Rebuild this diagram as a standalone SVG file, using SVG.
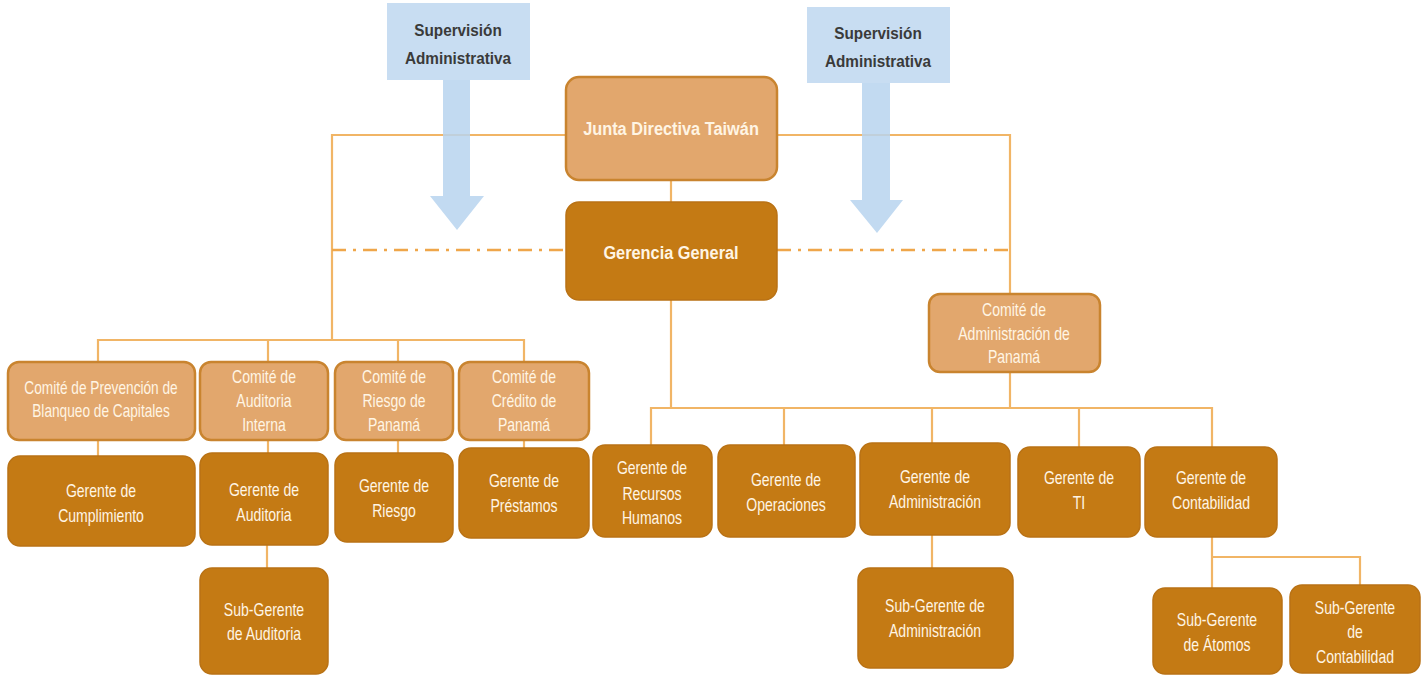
<svg xmlns="http://www.w3.org/2000/svg" width="1428" height="676" viewBox="0 0 1428 676">
<style>
.bg{fill:#ffffff}
.light rect{fill:#E2A76D;stroke:#C9842F;stroke-width:2.5}
.dark rect{fill:#C47A14;stroke:#B97215;stroke-width:1.5}
.node text{font-family:"Liberation Sans",sans-serif;font-size:18px;fill:#FFF5E4;text-anchor:middle}
.big text{font-size:19px;font-weight:bold}
.conn path{fill:none;stroke:#F1B566;stroke-width:2.2}
.conn path.dd{stroke:#EFA64A;stroke-width:2.6;stroke-dasharray:14 7 3 7}
.sup rect{fill:#C8DDF2}
.sup text{font-family:"Liberation Sans",sans-serif;font-size:17px;font-weight:bold;fill:#3A3A3A;text-anchor:middle}
.arrow{fill:#B7D3EE;fill-opacity:0.85}
</style>
<rect class="bg" x="0" y="0" width="1428" height="676"/>

<g id="connectors" class="conn">
<path d="M566,135 H332 V340"/>
<path d="M98,362 V340 H524 V362"/>
<path d="M268,340 V362"/>
<path d="M398,340 V362"/>
<path d="M777,135 H1010 V294"/>
<path d="M671,180 V202"/>
<path d="M671,300 V408"/>
<path d="M651,445 V408 H1212 V447"/>
<path d="M784,408 V445"/>
<path d="M932,408 V443"/>
<path d="M1079,408 V447"/>
<path d="M1010,372 V408"/>
<path d="M98,440 V456"/>
<path d="M268,440 V453"/>
<path d="M398,440 V453"/>
<path d="M524,440 V448"/>
<path d="M267,545 V568"/>
<path d="M932,535 V568"/>
<path d="M1212,537 V588"/>
<path d="M1212,557 H1360 V585"/>
<path class="dd" d="M332,250 H566"/>
<path class="dd" d="M777,250 H1010"/>
</g>

<g id="sup1" class="sup">
<rect x="387" y="3" width="143" height="77"/>
<g transform="translate(458 0) scale(0.9 1)"><text x="0" y="36">Supervisión</text><text x="0" y="64">Administrativa</text></g>
<polygon class="arrow" points="443,80 470,80 470,196 484,196 457,230 430,196 443,196"/>
</g>
<g id="sup2" class="sup">
<rect x="807" y="7" width="143" height="76"/>
<g transform="translate(878 0) scale(0.9 1)"><text x="0" y="39">Supervisión</text><text x="0" y="67">Administrativa</text></g>
<polygon class="arrow" points="862,83 890,83 890,200 903,200 877,233 850,200 862,200"/>
</g>

<g id="junta" class="node light big">
<rect x="566" y="77" width="211" height="103" rx="13"/>
<g transform="translate(671 0) scale(0.86 1)"><text x="0" y="135">Junta Directiva Taiwán</text></g>
</g>
<g id="gerencia" class="node dark big">
<rect x="566" y="202" width="211" height="98" rx="13"/>
<g transform="translate(671 0) scale(0.86 1)"><text x="0" y="259">Gerencia General</text></g>
</g>
<g id="comite-admin" class="node light">
<rect x="929" y="294" width="171" height="78" rx="11"/>
<g transform="translate(1014 0) scale(0.78 1)"><text x="0" y="316">Comité de</text><text x="0" y="340">Administración de</text><text x="0" y="363">Panamá</text></g>
</g>

<g id="comite-prevencion" class="node light">
<rect x="8" y="362" width="187" height="78" rx="11"/>
<g transform="translate(101 0) scale(0.76 1)"><text x="0" y="394">Comité de Prevención de</text><text x="0" y="417">Blanqueo de Capitales</text></g>
</g>
<g id="comite-auditoria" class="node light">
<rect x="200" y="362" width="128" height="78" rx="11"/>
<g transform="translate(264 0) scale(0.78 1)"><text x="0" y="383">Comité de</text><text x="0" y="407">Auditoria</text><text x="0" y="431">Interna</text></g>
</g>
<g id="comite-riesgo" class="node light">
<rect x="335" y="362" width="118" height="78" rx="11"/>
<g transform="translate(394 0) scale(0.78 1)"><text x="0" y="383">Comité de</text><text x="0" y="407">Riesgo de</text><text x="0" y="431">Panamá</text></g>
</g>
<g id="comite-credito" class="node light">
<rect x="459" y="362" width="130" height="78" rx="11"/>
<g transform="translate(524 0) scale(0.78 1)"><text x="0" y="383">Comité de</text><text x="0" y="407">Crédito de</text><text x="0" y="431">Panamá</text></g>
</g>

<g id="g-cumplimiento" class="node dark">
<rect x="8" y="456" width="187" height="90" rx="12"/>
<g transform="translate(101 0) scale(0.78 1)"><text x="0" y="497">Gerente de</text><text x="0" y="522">Cumplimiento</text></g>
</g>
<g id="g-auditoria" class="node dark">
<rect x="200" y="453" width="128" height="92" rx="12"/>
<g transform="translate(264 0) scale(0.78 1)"><text x="0" y="496">Gerente de</text><text x="0" y="521">Auditoria</text></g>
</g>
<g id="g-riesgo" class="node dark">
<rect x="335" y="453" width="118" height="89" rx="12"/>
<g transform="translate(394 0) scale(0.78 1)"><text x="0" y="492">Gerente de</text><text x="0" y="517">Riesgo</text></g>
</g>
<g id="g-prestamos" class="node dark">
<rect x="459" y="448" width="130" height="90" rx="12"/>
<g transform="translate(524 0) scale(0.78 1)"><text x="0" y="487">Gerente de</text><text x="0" y="512">Préstamos</text></g>
</g>
<g id="sg-auditoria" class="node dark">
<rect x="200" y="568" width="128" height="106" rx="12"/>
<g transform="translate(264 0) scale(0.78 1)"><text x="0" y="616">Sub-Gerente</text><text x="0" y="640">de Auditoria</text></g>
</g>

<g id="g-rrhh" class="node dark">
<rect x="593" y="445" width="119" height="92" rx="12"/>
<g transform="translate(652 0) scale(0.78 1)"><text x="0" y="474">Gerente de</text><text x="0" y="500">Recursos</text><text x="0" y="524">Humanos</text></g>
</g>
<g id="g-operaciones" class="node dark">
<rect x="718" y="445" width="137" height="92" rx="12"/>
<g transform="translate(786 0) scale(0.78 1)"><text x="0" y="486">Gerente de</text><text x="0" y="511">Operaciones</text></g>
</g>
<g id="g-administracion" class="node dark">
<rect x="860" y="443" width="150" height="92" rx="12"/>
<g transform="translate(935 0) scale(0.78 1)"><text x="0" y="483">Gerente de</text><text x="0" y="508">Administración</text></g>
</g>
<g id="g-ti" class="node dark">
<rect x="1018" y="447" width="122" height="90" rx="12"/>
<g transform="translate(1079 0) scale(0.78 1)"><text x="0" y="484">Gerente de</text><text x="0" y="509">TI</text></g>
</g>
<g id="g-contabilidad" class="node dark">
<rect x="1145" y="447" width="132" height="90" rx="12"/>
<g transform="translate(1211 0) scale(0.78 1)"><text x="0" y="484">Gerente de</text><text x="0" y="509">Contabilidad</text></g>
</g>
<g id="sg-administracion" class="node dark">
<rect x="858" y="568" width="155" height="100" rx="12"/>
<g transform="translate(935 0) scale(0.78 1)"><text x="0" y="612">Sub-Gerente de</text><text x="0" y="637">Administración</text></g>
</g>
<g id="sg-atomos" class="node dark">
<rect x="1153" y="588" width="129" height="86" rx="12"/>
<g transform="translate(1217 0) scale(0.78 1)"><text x="0" y="626">Sub-Gerente</text><text x="0" y="651">de Átomos</text></g>
</g>
<g id="sg-contabilidad" class="node dark">
<rect x="1290" y="585" width="130" height="88" rx="12"/>
<g transform="translate(1355 0) scale(0.78 1)"><text x="0" y="614">Sub-Gerente</text><text x="0" y="638">de</text><text x="0" y="663">Contabilidad</text></g>
</g>
</svg>
